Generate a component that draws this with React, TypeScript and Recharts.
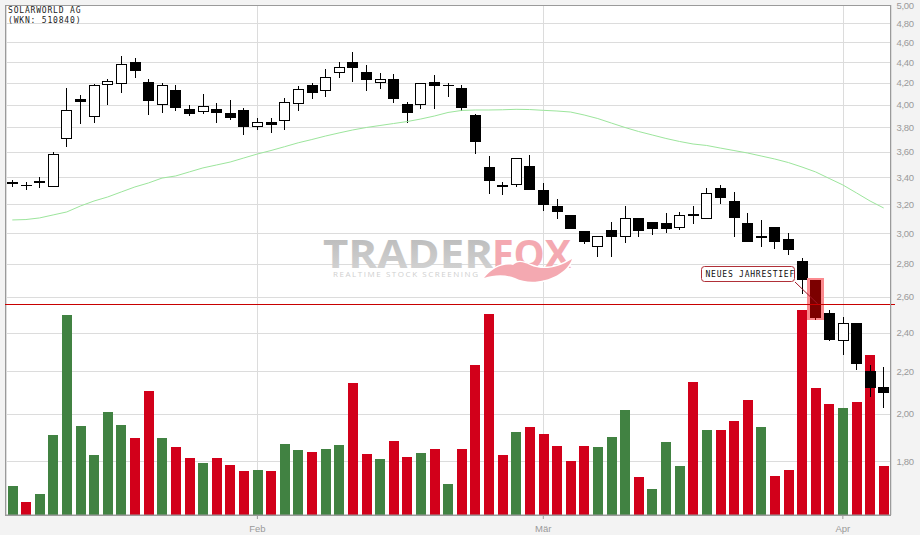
import React from "react";
import {
  Bar,
  CartesianGrid,
  ComposedChart,
  Line,
  ReferenceDot,
  ReferenceLine,
  XAxis,
  YAxis,
} from "recharts";

const opens = [
  3.346, 3.341, 3.371, 3.328, 3.701, 4.051, 3.893, 4.177, 4.186, 4.4, 4.207, 3.994, 4.133,
  3.961, 3.937, 3.961, 3.926, 3.952, 3.807, 3.847, 3.858, 4.009, 4.18, 4.126, 4.29, 4.4,
  4.303, 4.2, 4.235, 4.006, 3.994, 4.207, 4.183, 4.152, 3.908, 3.478, 3.341, 3.343, 3.486,
  3.304, 3.187, 3.124, 3.014, 2.91, 3.021, 2.976, 3.103, 3.075, 3.068, 3.036, 3.131, 3.098,
  3.319, 3.223, 3.068, 2.981, 3.041, 2.961, 2.818, 2.7, 2.508, 2.357, 2.453, 2.203, 2.125,
];
const closes = [
  3.361, 3.333, 3.356, 3.579, 3.949, 4.027, 4.177, 4.214, 4.379, 4.312, 4.033, 4.177, 3.97,
  3.917, 3.985, 3.926, 3.882, 3.804, 3.844, 3.821, 4.021, 4.14, 4.108, 4.252, 4.348, 4.342,
  4.226, 4.233, 4.051, 3.926, 4.195, 4.17, 4.174, 3.97, 3.678, 3.371, 3.326, 3.547, 3.304,
  3.194, 3.145, 3.028, 2.941, 2.979, 2.974, 3.101, 3.014, 3.028, 3.028, 3.122, 3.117, 3.282,
  3.245, 3.103, 2.941, 2.967, 2.941, 2.888, 2.7, 2.48, 2.361, 2.451, 2.238, 2.12, 2.097,
];
const highs = [
  3.376, 3.363, 3.401, 3.595, 4.152, 4.088, 4.189, 4.235, 4.461, 4.44, 4.235, 4.198, 4.18,
  3.997, 4.096, 4.015, 4.042, 3.97, 3.882, 3.882, 4.06, 4.17, 4.198, 4.332, 4.4, 4.5, 4.371,
  4.293, 4.284, 4.024, 4.195, 4.274, 4.198, 4.18, 3.917, 3.565, 3.363, 3.549, 3.573, 3.356,
  3.237, 3.124, 3.014, 2.979, 3.075, 3.187, 3.103, 3.075, 3.138, 3.145, 3.187, 3.319, 3.341,
  3.289, 3.138, 3.089, 3.041, 3.001, 2.837, 2.7, 2.525, 2.485, 2.453, 2.233, 2.223,
];
const lows = [
  3.328, 3.304, 3.319, 3.328, 3.637, 3.83, 3.838, 3.997, 4.105, 4.245, 3.908, 3.926, 3.943,
  3.899, 3.917, 3.838, 3.864, 3.737, 3.779, 3.754, 3.779, 3.943, 4.051, 4.069, 4.245, 4.207,
  4.124, 4.142, 4.015, 3.838, 3.961, 3.961, 4.069, 3.943, 3.581, 3.274, 3.267, 3.326, 3.304,
  3.152, 3.096, 3.028, 2.928, 2.843, 2.843, 2.934, 2.974, 2.987, 3.001, 3.021, 3.062, 3.096,
  3.201, 2.974, 2.941, 2.908, 2.895, 2.856, 2.617, 2.469, 2.356, 2.283, 2.208, 2.078, 2.027,
];
const sma = [
  3.089, 3.092, 3.103, 3.124, 3.145, 3.187, 3.223, 3.252, 3.289, 3.326, 3.356, 3.393, 3.409,
  3.44, 3.471, 3.494, 3.517, 3.549, 3.581, 3.609, 3.64, 3.672, 3.699, 3.728, 3.754, 3.779,
  3.8, 3.817, 3.834, 3.851, 3.873, 3.899, 3.93, 3.948, 3.952, 3.952, 3.954, 3.958, 3.956,
  3.949, 3.943, 3.934, 3.908, 3.877, 3.838, 3.8, 3.766, 3.737, 3.708, 3.683, 3.662, 3.65,
  3.629, 3.609, 3.589, 3.565, 3.541, 3.513, 3.478, 3.44, 3.39, 3.341, 3.282, 3.223, 3.173,
];
const volumes = [
  29, 13, 21, 80, 200, 89, 60, 103, 90, 77, 124, 77, 68, 57, 52, 57, 50, 44, 45, 44, 71, 65,
  63, 66, 70, 132, 61, 56, 74, 58, 62, 66, 31, 66, 150, 201, 60, 83, 88, 81, 69, 54, 69, 68,
  78, 105, 38, 26, 73, 49, 133, 85, 85, 94, 115, 88, 39, 45, 205, 127, 111, 107, 113, 160, 49,
];
// 1 = green volume bar, 0 = red
const volumeUp = [
  1, 0, 1, 1, 1, 1, 1, 1, 1, 0, 0, 1, 0, 0, 1, 0, 0, 0, 1, 0, 1, 1,
  0, 1, 1, 0, 0, 1, 0, 0, 1, 0, 1, 0, 0, 0, 0, 1, 0, 0, 0, 0, 0, 1,
  1, 1, 0, 1, 1, 1, 0, 1, 0, 0, 0, 1, 0, 0, 0, 0, 0, 1, 0, 0, 0,
];

const priceTicks = [5, 4.8, 4.6, 4.4, 4.2, 4, 3.8, 3.6, 3.4, 3.2, 3, 2.8, 2.6, 2.4, 2.2, 2, 1.8];
const monthTicks = [18, 39, 61];
const monthLabels: Record<number, string> = { 18: "Feb", 39: "Mär", 61: "Apr" };
const yearLow = 2.56;
const yearLowIndex = 59;

const data = opens.map((open, i) => ({
  i,
  open,
  close: closes[i],
  high: highs[i],
  low: lows[i],
  range: [lows[i], highs[i]],
  sma: sma[i],
  volume: volumes[i],
}));

const GREY = "#9a9a9a";
const GRID = "#dcdcdc";
const pixelFont = "'DejaVu Sans Mono', monospace";
const snap = (v: number) => Math.round(v) + 0.5;

function Candle(props: any) {
  const { x, y, width, height, payload, index } = props;
  const { open, close, high, low } = payload;
  // the price axis is logarithmic, so the body is placed inside the wick the same way
  const at = (v: number) => Math.round(y + (height * Math.log(high / v)) / Math.log(high / low));
  const cx = Math.round(x + width / 2) + 0.5;
  const left = cx - 5.5;
  const top = at(Math.max(open, close));
  const bottom = at(Math.min(open, close));
  const marked = index === yearLowIndex;
  const ink = marked ? "#7c0000" : "#000";
  return (
    <g>
      {marked && <rect x={left - 3} y={top - 2} width={17} height={bottom - top + 4} fill="#fb8a8f" />}
      <line x1={cx} x2={cx} y1={Math.round(y)} y2={Math.round(y + height)} stroke={ink} strokeWidth={1} />
      {close > open ? (
        <rect x={left + 0.5} y={top + 0.5} width={10} height={Math.max(bottom - top - 1, 1)} fill="#fff" stroke="#000" strokeWidth={1} />
      ) : (
        <rect x={left} y={top} width={11} height={Math.max(bottom - top, 1)} fill={ink} />
      )}
    </g>
  );
}

function VolumeBar({ x, y, width, height, index }: any) {
  const top = Math.round(y);
  return (
    <rect
      x={Math.round(x)}
      y={top}
      width={width}
      height={Math.round(y + height) - top}
      fill={volumeUp[index] ? "#418242" : "#d2001a"}
    />
  );
}

function PriceTick({ x, y, payload }: any) {
  return (
    <text x={x} y={y + 3.5} fontSize={9.5} letterSpacing={-0.3} fontFamily="'Liberation Sans', sans-serif" fill={GREY}>
      {payload.value.toFixed(2).replace(".", ",")}
    </text>
  );
}

function MonthTick({ x, y, payload }: any) {
  return (
    <text x={x} y={y + 10.5} fontSize={9.5} textAnchor="middle" fontFamily="'Liberation Sans', sans-serif" fill={GREY}>
      {monthLabels[payload.value]}
    </text>
  );
}

function GridRow({ x1, x2, y1 }: any) {
  return <line x1={x1} x2={x2} y1={snap(y1)} y2={snap(y1)} stroke={GRID} strokeWidth={1} />;
}

function GridColumn({ y1, y2, x1 }: any) {
  return <line x1={snap(x1)} x2={snap(x1)} y1={y1} y2={y2} stroke={GRID} strokeWidth={1} />;
}

function YearLowLine({ y1 }: any) {
  // runs a little past the plot, into the price axis
  return <line x1={5} y1={snap(y1)} x2={895} y2={snap(y1)} stroke="#c80000" strokeWidth={1} />;
}

function Callout({ cx, cy }: any) {
  const bx = Math.round(cx - 115);
  const by = Math.round(cy - 38);
  return (
    <g>
      <line x1={bx + 94} y1={by + 16} x2={cx + 2} y2={cy} stroke="#a01828" strokeWidth={1} />
      <rect x={bx + 0.5} y={by + 0.5} width={93} height={15} rx={3} fill="#fff" stroke="#b03038" strokeWidth={1} />
      <text x={bx + 4.5} y={by + 11} fontSize={8} fontFamily={pixelFont} letterSpacing={0.78} fill="#111">
        NEUES JAHRESTIEF
      </text>
    </g>
  );
}

function Watermark() {
  return (
    <g>
      <defs>
        <linearGradient id="traderGrad" x1="0" y1="0" x2="0" y2="1">
          <stop offset="0%" stopColor="#b4b4b4" />
          <stop offset="100%" stopColor="#d8d8d8" />
        </linearGradient>
      </defs>
      <text x={323} y={267.5} fontSize={40} fontWeight={700} fontFamily="'Open Sans', sans-serif" fill="url(#traderGrad)" textLength={170} lengthAdjust="spacingAndGlyphs">
        TRADER
      </text>
      <text x={492} y={267.5} fontSize={40} fontWeight={700} fontFamily="'Open Sans', sans-serif" fill="#f4a9b1" textLength={79} lengthAdjust="spacingAndGlyphs">
        FOX
      </text>
      <path d="M484 278 C492 268 503 263 513 265 C518 260 524 262 530 265 C543 271 558 268 572 259 C566 277 535 288 515 278 C504 274 494 275 484 278 Z" fill="#fff" stroke="#fff" strokeWidth={3} />
      <path d="M484 278 C492 268 503 263 513 265 C518 260 524 262 530 265 C543 271 558 268 572 259 C566 277 535 288 515 278 C504 274 494 275 484 278 Z" fill="#f4a9b1" />
      <text x={333} y={277} fontSize={8} fontFamily="'Open Sans', sans-serif" fill="#cfcfcf" letterSpacing={1.55}>
        REALTIME STOCK SCREENING
      </text>
    </g>
  );
}

export default function App() {
  return (
    <div style={{ position: "fixed", left: 0, top: 0, width: 920, height: 535, background: "#f3f3f3" }}>
      <ComposedChart width={920} height={535} data={data} margin={{ top: 5, right: 0, bottom: 0, left: 5.5 }}>
        <CartesianGrid fill="#fff" horizontal={<GridRow />} vertical={<GridColumn />} />
        <XAxis
          dataKey="i"
          type="category"
          ticks={monthTicks}
          interval={0}
          tick={<MonthTick />}
          height={20}
          tickSize={4}
          tickLine={{ stroke: GREY }}
          axisLine={{ stroke: GREY, strokeWidth: 1 }}
        />
        <XAxis dataKey="i" type="category" xAxisId="vol" hide />
        <YAxis
          orientation="right"
          scale="log"
          type="number"
          domain={[1.595, 5]}
          allowDataOverflow
          ticks={priceTicks}
          interval={0}
          width={29.5}
          tick={<PriceTick />}
          tickSize={0}
          tickMargin={6}
          axisLine={{ stroke: GREY, strokeWidth: 1 }}
        />
        <YAxis yAxisId="vol" type="number" domain={[0, 510]} hide />
        <Watermark />
        <Bar dataKey="volume" xAxisId="vol" yAxisId="vol" barSize={10} shape={<VolumeBar />} isAnimationActive={false} />
        <Line dataKey="sma" stroke="#9ce59c" strokeWidth={1} dot={false} isAnimationActive={false} />
        <Bar dataKey="range" barSize={11} shape={<Candle />} isAnimationActive={false} />
        <ReferenceLine y={yearLow} shape={<YearLowLine />} />
        <ReferenceDot x={yearLowIndex} y={yearLow} shape={<Callout />} />
        <rect x={5.5} y={5.5} width={885} height={510} fill="none" stroke={GREY} strokeWidth={1} />
        <text x={8} y={13} fontSize={8} fontFamily={pixelFont} letterSpacing={0.82} fill="#222">
          SOLARWORLD AG
        </text>
        <text x={8} y={23} fontSize={8} fontFamily={pixelFont} letterSpacing={0.82} fill="#222">
          (WKN: 510840)
        </text>
      </ComposedChart>
    </div>
  );
}
